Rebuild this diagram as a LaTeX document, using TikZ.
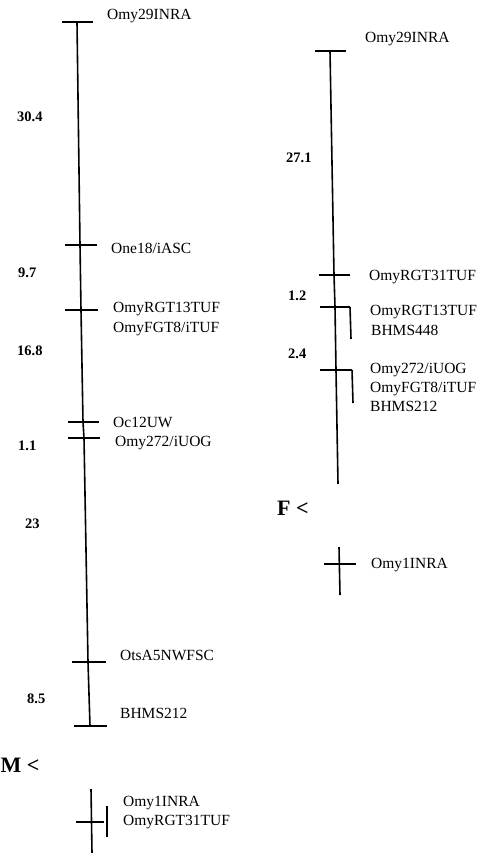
\documentclass[tikz,border=0pt]{standalone}
\usepackage{fontspec}
\setmainfont{Liberation Serif}
\begin{document}
\begin{tikzpicture}[x=1pt,y=-1pt,
  chrom/.style={line width=1.6pt},
  tick/.style={line width=2.2pt},
  lbl/.style={anchor=base west,inner sep=0pt,font=\fontsize{15.5}{15.5}\selectfont},
  dist/.style={anchor=base west,inner sep=0pt,font=\fontsize{14.5}{14.5}\selectfont\bfseries},
  sex/.style={anchor=base west,inner sep=0pt,font=\fontsize{22}{22}\selectfont\bfseries}]
\useasboundingbox (0,0) rectangle (491,853);
% ---------- left chromosome (M) ----------
\coordinate (L0) at (77,22);
\coordinate (L1) at (80,245);
\coordinate (L2) at (81,310);
\coordinate (L3) at (83,422);
\coordinate (L4) at (84,438);
\coordinate (L5) at (88,662);
\coordinate (L6) at (90,726);
\draw[chrom] (L0) -- (L1) -- (L2) -- (L3) -- (L4) -- (L5) -- (L6);
\draw[tick] (62,22) -- (93,22);
\draw[tick] (65,245) -- (97,245);
\draw[tick] (65,310) -- (98,310);
\draw[tick] (68,422) -- (99,422);
\draw[tick] (68,438) -- (100,438);
\draw[tick] (72,662) -- (106,662);
\draw[tick] (74,726) -- (107,726);
\node[lbl] (a1) at (107,20) {Omy29INRA};
\node[lbl] (a2) at (111,253) {One18/iASC};
\node[lbl] (a3) at (113,312) {OmyRGT13TUF};
\node[lbl] (a4) at (113,332) {OmyFGT8/iTUF};
\node[lbl] (a5) at (113,427) {Oc12UW};
\node[lbl] (a6) at (115,446) {Omy272/iUOG};
\node[lbl] (a7) at (120,660) {OtsA5NWFSC};
\node[lbl] (a8) at (120,718) {BHMS212};
\node[dist] (d1) at (17,122) {30.4};
\node[dist] (d2) at (18,277) {9.7};
\node[dist] (d3) at (17,355) {16.8};
\node[dist] (d4) at (18,450) {1.1};
\node[dist] (d5) at (25,528) {23};
\node[dist] (d6) at (27,703) {8.5};
\node[sex] (m) at (0.5,772) {M <};
% small linkage group below M
\draw[chrom] (91,789) -- (92,853);
\draw[tick] (76,822) -- (104,822);
\draw[chrom] (107,806) -- (107,837);
\node[lbl] (b1) at (123,806) {Omy1INRA};
\node[lbl] (b2) at (123,825) {OmyRGT31TUF};
% ---------- right chromosome (F) ----------
\coordinate (R0) at (330,51);
\coordinate (R1) at (334,275);
\coordinate (R2) at (335,307);
\coordinate (R3) at (336,370);
\coordinate (R4) at (338,484);
\draw[chrom] (R0) -- (R1) -- (R2) -- (R3) -- (R4);
\draw[tick] (315,51) -- (346,51);
\draw[tick] (319,275) -- (350,275);
\draw[tick] (320,307) -- (350,307);
\draw[chrom] (350,307) -- (351,339);
\draw[tick] (320,370) -- (352,370);
\draw[chrom] (352,370) -- (353,403);
\node[lbl] (c1) at (365,43) {Omy29INRA};
\node[lbl] (c2) at (369,280) {OmyRGT31TUF};
\node[lbl] (c3) at (370,315) {OmyRGT13TUF};
\node[lbl] (c4) at (371,335) {BHMS448};
\node[lbl] (c5) at (370,373) {Omy272/iUOG};
\node[lbl] (c6) at (370,392) {OmyFGT8/iTUF};
\node[lbl] (c7) at (370,411) {BHMS212};
\node[dist] (e1) at (286,163) {27.1};
\node[dist] (e2) at (288,300) {1.2};
\node[dist] (e3) at (288,358) {2.4};
\node[sex] (f) at (277,515) {F <};
% small linkage group below F
\draw[chrom] (339,547) -- (340,595);
\draw[tick] (324,564) -- (356,564);
\node[lbl] (g1) at (371,568) {Omy1INRA};
\end{tikzpicture}
\end{document}
